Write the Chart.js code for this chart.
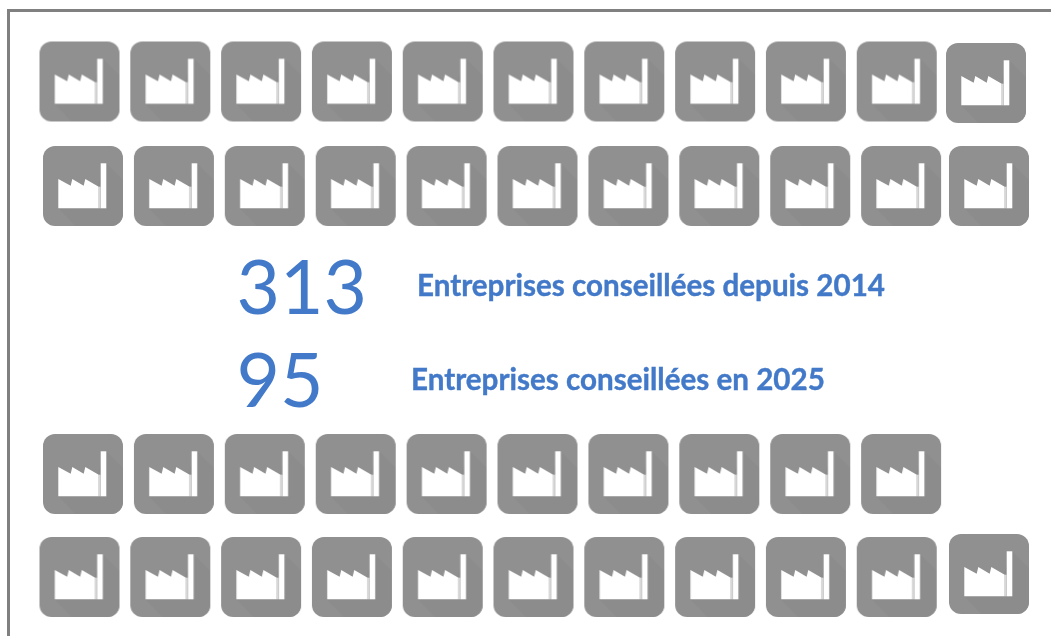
<!DOCTYPE html>
<html><head><meta charset="utf-8">
<style>html,body{margin:0;padding:0;background:#fff}#w{width:1051px;height:636px;position:relative}</style>
<script src="https://cdn.jsdelivr.net/npm/chart.js@4"></script>
</head><body><div id="w"><canvas id="c" width="1051" height="636"></canvas></div>
<script>
// Pictogram rows: how many factory icons per row
const rowCounts = [11, 11, 10, 11];
const statValues = ['313', '95'];
const statLabels = ['Entreprises conseillées depuis 2014', 'Entreprises conseillées en 2025'];

// Layout (pixels)
const ROW_Y = [81.5, 186, 474, 577];
const ROW_START = [79.5, 83, 83, 79.5];
const ROW_STEP = [90.8, 90.9, 90.9, 90.8];
const LAST_X = [986, 989, null, 989];
const LAST_Y = [83, 186, null, 574];
const BLUE = '#4279c8';

function makeIcon() {
  const s = 82, c = document.createElement('canvas');
  c.width = s; c.height = s;
  const x = c.getContext('2d');
  x.filter = 'blur(0.7px)';
  x.beginPath(); x.roundRect(1, 1, 80, 80, 12); x.fillStyle = '#909090'; x.fill();
  x.save(); x.clip();
  x.beginPath(); x.moveTo(56, 40); x.lineTo(64, 18); x.lineTo(90, 44); x.lineTo(90, 90); x.lineTo(42, 90); x.lineTo(16, 63); x.closePath();
  x.fillStyle = '#8c8c8c'; x.fill();
  x.restore();
  x.fillStyle = '#fff';
  x.beginPath();
  x.moveTo(16.3, 34); x.lineTo(28.7, 40.7); x.lineTo(30.3, 34); x.lineTo(41.7, 40.7); x.lineTo(43.3, 34);
  x.lineTo(56.7, 41.7); x.lineTo(56.7, 63.3); x.lineTo(16.3, 63.3); x.closePath(); x.fill();
  x.fillRect(58.7, 18.3, 5.6, 45);
  x.fillStyle = '#d8d8d8'; x.fillRect(56.7, 41.7, 2, 21.6);
  return c;
}
const icon = makeIcon();

const datasets = rowCounts.map((n, r) => ({
  label: 'row' + (r + 1),
  data: Array.from({length: n}, (_, i) => {
    const last = i === 10 && LAST_X[r] !== null;
    return { x: last ? LAST_X[r] : ROW_START[r] + ROW_STEP[r] * i, y: last ? LAST_Y[r] : ROW_Y[r] };
  }),
  pointStyle: icon, pointRadius: 41, pointHoverRadius: 41, showLine: false, clip: false
}));

const frame = {
  id: 'frame',
  beforeDraw(ch) {
    const x = ch.ctx; x.save();
    x.fillStyle = '#fff'; x.fillRect(0, 0, 1051, 636);
    x.fillStyle = '#808080';
    x.fillRect(7, 9, 1044, 3);
    x.fillRect(7, 9, 3, 627);
    x.restore();
  },
  afterDraw(ch) {
    const x = ch.ctx; x.save();
    x.fillStyle = BLUE; x.strokeStyle = BLUE; x.textBaseline = 'alphabetic'; x.textAlign = 'left';
    x.font = '75px Lato';
    x.fillText(statValues[0], 236.5, 314);
    x.fillText(statValues[1], 236.5, 407);
    x.font = 'bold 29.6px Lato';
    x.lineWidth = 0.4;
    x.fillText(statLabels[0], 417, 295.5);
    x.strokeText(statLabels[0], 417, 295.5);
    x.fillText(statLabels[1], 411, 389.5);
    x.strokeText(statLabels[1], 411, 389.5);
    x.restore();
  }
};

new Chart(document.getElementById('c'), {
  type: 'scatter',
  data: { datasets },
  plugins: [frame],
  options: {
    responsive: false, animation: false,
    layout: { padding: 0, autoPadding: false },
    events: [],
    plugins: { legend: { display: false }, tooltip: { enabled: false }, title: { display: false } },
    scales: {
      x: { type: 'linear', min: 0, max: 1051, display: false },
      y: { type: 'linear', min: 0, max: 636, reverse: true, display: false }
    }
  }
});
</script></body></html>
